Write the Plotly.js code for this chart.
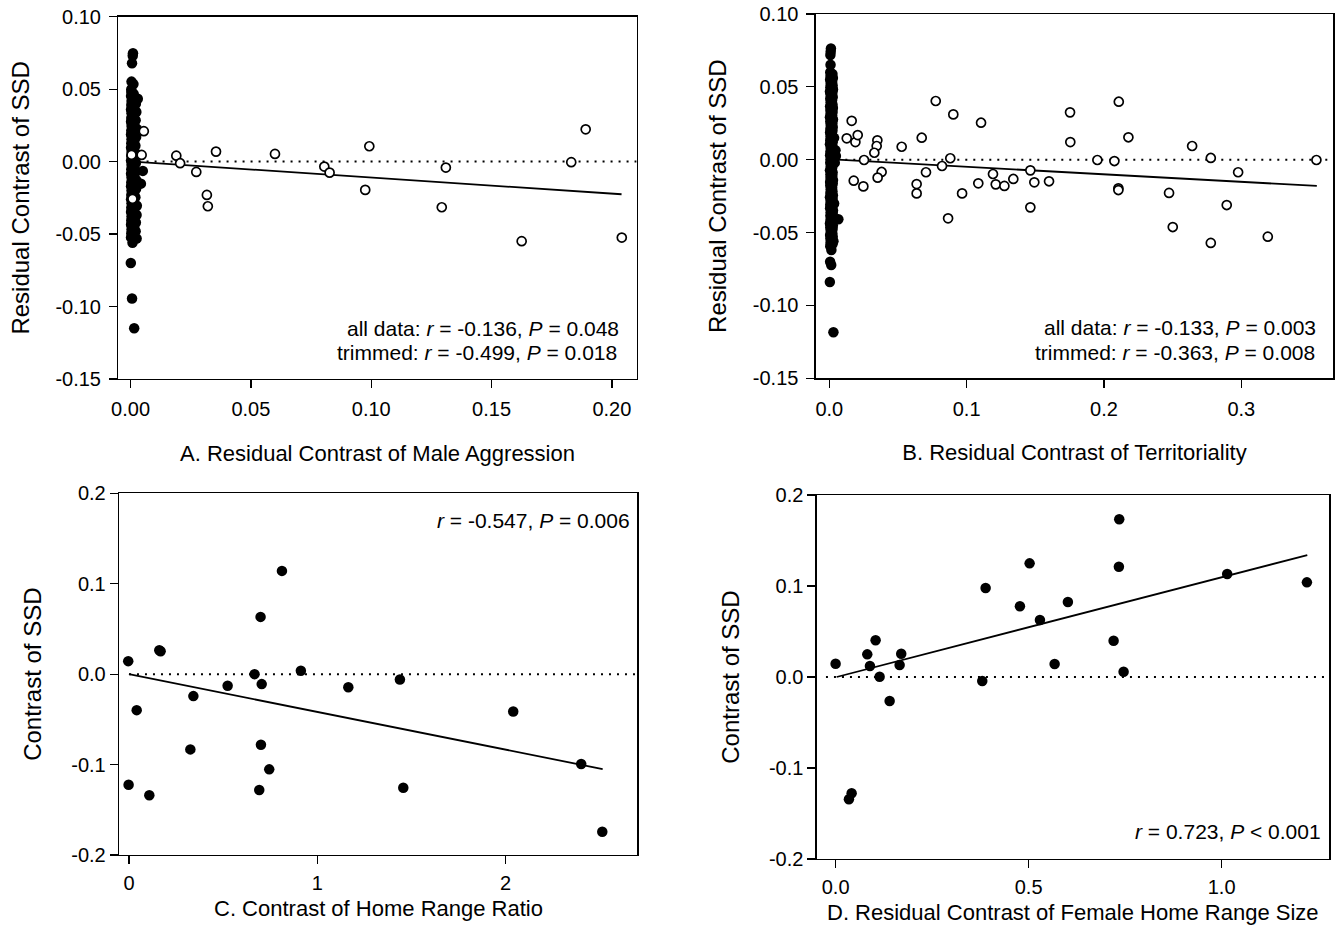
<!DOCTYPE html>
<html>
<head>
<meta charset="utf-8">
<script src="https://cdn.plot.ly/plotly-3.0.1.min.js"></script>
<style>html,body{margin:0;padding:0;background:#fff;}#chart{width:1335px;height:949px;}</style>
</head>
<body>
<div id="chart"></div>
<script>
// ---------- Panel A: Male aggression ----------
const aggrOpenX = [0.0004,0.0008,0.0046,0.0055,0.0190,0.0206,0.0273,0.0317,0.0321,0.0355,0.0600,0.0805,0.0827,0.0975,0.0992,0.1293,0.1310,0.1625,0.1831,0.1891,0.2041];
const aggrOpenY = [0.0046,-0.0257,0.0046,0.0210,0.0041,-0.0011,-0.0071,-0.0230,-0.0308,0.0069,0.0053,-0.0034,-0.0076,-0.0195,0.0106,-0.0315,-0.0041,-0.0549,-0.0004,0.0223,-0.0524];
const aggrFilledX = [
 0.0010,0.0009,0.0006,0.0004,0.0012,0.0003,0.0030,0.0051,0.0043,0.0025,0.0025,0.0008,0.0013,0.0001,0.0006,0.0015,
 0.0003,0.0002,0.0004,0.0003,0.0002,0.0004,0.0003,0.0002,0.0004,0.0003,0.0002,0.0004,0.0003,0.0002,0.0004,0.0003,0.0002,0.0004,0.0003,0.0002,0.0004,0.0003,0.0002,0.0004,0.0003,0.0002,0.0004,0.0003,0.0002,0.0004,0.0003,0.0002,0.0004,0.0003,0.0002,
 0.0013,0.0014,0.0012,0.0015,0.0013,0.0014,0.0012,0.0015,0.0013,0.0014,0.0012,0.0015,0.0013,0.0014,0.0012,0.0015,0.0013,0.0014,0.0012,0.0015,0.0013,0.0014,0.0012,0.0015,0.0013,0.0014,0.0012,0.0015,0.0013,0.0014,0.0012,0.0015,0.0013,0.0014,0.0012,
 0.0022,0.0024,0.0021,0.0026,0.0023,0.0020,0.0025,0.0022,0.0021,0.0024,0.0023,0.0020,0.0026,0.0022,0.0021
];
const aggrFilledY = [
 0.0748,0.0730,0.0679,0.0552,0.0535,0.0500,0.0434,-0.0064,-0.0152,-0.0368,-0.0530,-0.0560,-0.0330,-0.0700,-0.0945,-0.1150,
 0.0480,0.0452,0.0418,0.0391,0.0360,0.0333,0.0301,0.0275,0.0246,0.0214,0.0188,0.0155,0.0127,0.0096,0.0066,0.0038,0.0008,-0.0021,-0.0052,-0.0083,-0.0110,-0.0143,-0.0170,-0.0199,-0.0231,-0.0260,-0.0288,-0.0318,-0.0347,-0.0379,-0.0406,-0.0435,-0.0468,-0.0495,-0.0523,
 0.0467,0.0436,0.0402,0.0372,0.0347,0.0315,0.0289,0.0258,0.0229,0.0200,0.0171,0.0140,0.0112,0.0081,0.0051,0.0022,-0.0007,-0.0036,-0.0068,-0.0095,-0.0127,-0.0156,-0.0185,-0.0214,-0.0246,-0.0274,-0.0303,-0.0333,-0.0362,-0.0392,-0.0421,-0.0451,-0.0481,-0.0510,-0.0540,
 0.0400,0.0342,0.0285,0.0226,0.0170,0.0110,0.0052,-0.0010,-0.0070,-0.0128,-0.0188,-0.0246,-0.0305,-0.0420,-0.0480
];
const aggrFitX = [0.001, 0.204];
const aggrFitY = [0.0, -0.0225];
const aggrTickVals = [0, 0.05, 0.10, 0.15, 0.20];
const aggrTickText = ['0.00','0.05','0.10','0.15','0.20'];

// ---------- Panel B: Territoriality ----------
const terrOpenX = [0.0163,0.0127,0.0190,0.0207,0.0253,0.0178,0.0248,0.0350,0.0345,0.0328,0.0381,0.0352,0.0527,0.0673,0.0636,0.0636,0.0704,0.0775,0.0903,0.0821,0.0881,0.0865,0.0967,0.1105,0.1085,0.1192,0.1212,0.1275,0.1340,0.1464,0.1493,0.1464,0.1600,
 0.1753,0.1755,0.2108,0.2178,0.1952,0.2076,0.2105,0.2105,0.2474,0.2501,0.2642,0.2778,0.2778,0.2977,0.2894,0.3193,0.3547];
const terrOpenY = [0.0267,0.0147,0.0121,0.0169,-0.0002,-0.0144,-0.0183,0.0133,0.0094,0.0048,-0.0084,-0.0123,0.0089,0.0151,-0.0167,-0.0231,-0.0086,0.0403,0.0311,-0.0043,0.0010,-0.0402,-0.0231,0.0254,-0.0162,-0.0098,-0.0169,-0.0180,-0.0132,-0.0073,-0.0155,-0.0327,-0.0148,
 0.0325,0.0121,0.0398,0.0154,-0.0002,-0.0009,-0.0196,-0.0208,-0.0228,-0.0462,0.0094,0.0012,-0.0571,-0.0086,-0.0311,-0.0528,-0.0002];
const terrFilledX = [
 0.0012,0.0010,0.0008,0.0009,0.0014,0.0006,0.0004,0.0030,0.0066,0.0015,
 0.0045,0.0048,0.0040,0.0035,0.0035,0.0030,
 0.0007,0.0009,0.0006,0.0010,0.0008,0.0005,0.0009,0.0007,0.0010,0.0006,0.0008,0.0009,0.0005,0.0007,0.0010,0.0008,0.0006,0.0009,0.0007,0.0005,0.0010,0.0008,0.0006,0.0009,0.0007,0.0010,0.0005,0.0008,0.0009,0.0006,0.0007,0.0010,0.0008,0.0005,0.0009,0.0007,0.0006,0.0010,0.0008,0.0009,0.0005,0.0007,0.0010,0.0006,0.0008,0.0009,0.0007,
 0.0023,0.0026,0.0021,0.0024,0.0027,0.0022,0.0025,0.0020,0.0023,0.0026,0.0024,0.0021,0.0027,0.0022,0.0025,0.0023,0.0020,0.0026,0.0024,0.0022,0.0027,0.0021,0.0025,0.0023,0.0026,0.0020,0.0024,0.0022,0.0027,0.0025,0.0021,0.0023,0.0026,0.0024,0.0020,0.0022,0.0027,0.0025,0.0023,0.0021,0.0026,0.0024,0.0022,0.0025,0.0020,0.0023
];
const terrFilledY = [
 0.0764,0.0741,0.0718,0.0652,-0.0722,-0.0700,-0.0839,-0.1184,-0.0409,-0.0620,
 0.0065,0.0025,-0.0020,0.0150,-0.0300,-0.0560,
 0.0601,0.0574,0.0549,0.0521,0.0498,0.0469,0.0447,0.0419,0.0394,0.0367,0.0342,0.0315,0.0291,0.0263,0.0238,0.0211,0.0187,0.0159,0.0134,0.0107,0.0083,0.0054,0.0031,0.0003,-0.0021,-0.0049,-0.0073,-0.0101,-0.0125,-0.0153,-0.0177,-0.0205,-0.0229,-0.0257,-0.0281,-0.0309,-0.0333,-0.0361,-0.0385,-0.0413,-0.0437,-0.0465,-0.0489,-0.0517,-0.0541,-0.0569,-0.0593,
 0.0589,0.0561,0.0533,0.0510,0.0482,0.0458,0.0430,0.0407,0.0379,0.0355,0.0328,0.0304,0.0276,0.0251,0.0224,0.0199,0.0172,0.0148,0.0120,0.0096,0.0067,0.0044,0.0016,-0.0008,-0.0036,-0.0060,-0.0088,-0.0112,-0.0140,-0.0164,-0.0192,-0.0216,-0.0244,-0.0268,-0.0296,-0.0320,-0.0348,-0.0372,-0.0400,-0.0424,-0.0452,-0.0476,-0.0504,-0.0528,-0.0556,-0.0580
];
const terrFitX = [0.006, 0.355];
const terrFitY = [0.0, -0.018];
const terrTickVals = [0, 0.1, 0.2, 0.3];
const terrTickText = ['0.0','0.1','0.2','0.3'];

const residTickVals = [0.10, 0.05, 0, -0.05, -0.10, -0.15];
const residTickText = ['0.10','0.05','0.00','-0.05','-0.10','-0.15'];

// ---------- Panel C: Home range ratio ----------
const ratioX = [-0.004,0.161,0.168,0.041,-0.002,0.108,0.342,0.326,0.524,0.667,0.705,0.699,0.8125,0.701,0.745,0.692,0.913,1.165,1.439,1.457,2.041,2.402,2.514];
const ratioY = [0.0144,0.0265,0.0254,-0.0398,-0.1223,-0.1340,-0.0243,-0.0832,-0.0129,0.0000,-0.0110,0.0633,0.1142,-0.0781,-0.1053,-0.1282,0.0037,-0.0144,-0.0059,-0.1256,-0.0413,-0.0994,-0.1742];
const ratioFitX = [0.0, 2.516];
const ratioFitY = [0.0, -0.105];
const ratioTickVals = [0, 1, 2];
const ratioTickText = ['0','1','2'];

// ---------- Panel D: Female home range size ----------
const femX = [0.000,0.082,0.1036,0.0889,0.114,0.170,0.1658,0.140,0.0345,0.0415,0.3886,0.3799,0.4775,0.5026,0.5293,0.5674,0.6018,0.7348,0.7339,0.7202,0.7461,1.0145,1.221];
const femY = [0.0146,0.0249,0.0403,0.0121,0.0003,0.0256,0.0132,-0.0264,-0.1344,-0.1278,0.0978,-0.0044,0.0777,0.1249,0.0626,0.0143,0.0824,0.1733,0.1212,0.0399,0.0058,0.1132,0.1040];
const femFitX = [0.0026, 1.222];
const femFitY = [0.0, 0.134];
const femTickVals = [0, 0.5, 1.0];
const femTickText = ['0.0','0.5','1.0'];

const ssdTickVals = [0.2, 0.1, 0, -0.1, -0.2];
const ssdTickText = ['0.2','0.1','0.0','-0.1','-0.2'];

// ---------- build ----------
const W = 1335, H = 949;
const FONT = 'Liberation Sans, Arial, Helvetica, sans-serif';
const filled = {color:'#000', size:10.5, line:{width:0}};
const openM = {color:'#fff', size:9, line:{color:'#000', width:1.7}};
const fitLine = {color:'#000', width:1.8};

function pts(x, y, xa, ya, marker){
  return {type:'scatter', mode:'markers', x:x, y:y, xaxis:xa, yaxis:ya, marker:marker, hoverinfo:'skip', cliponaxis:false};
}
function fit(x, y, xa, ya){
  return {type:'scatter', mode:'lines', x:x, y:y, xaxis:xa, yaxis:ya, line:fitLine, hoverinfo:'skip'};
}

const data = [
  fit(aggrFitX, aggrFitY, 'x', 'y'),
  pts(aggrFilledX, aggrFilledY, 'x', 'y', filled),
  pts(aggrOpenX, aggrOpenY, 'x', 'y', openM),
  fit(terrFitX, terrFitY, 'x2', 'y2'),
  pts(terrFilledX, terrFilledY, 'x2', 'y2', filled),
  pts(terrOpenX, terrOpenY, 'x2', 'y2', openM),
  fit(ratioFitX, ratioFitY, 'x3', 'y3'),
  pts(ratioX, ratioY, 'x3', 'y3', filled),
  fit(femFitX, femFitY, 'x4', 'y4'),
  pts(femX, femY, 'x4', 'y4', filled)
];

const axBase = {
  showline:true, mirror:true, linecolor:'#000', linewidth:1.3,
  ticks:'outside', ticklen:8, tickwidth:1.2, tickcolor:'#000',
  showgrid:false, zeroline:false, fixedrange:true, tickmode:'array',
  tickfont:{family:FONT, size:20, color:'#000'}
};
function ax(extra){ return Object.assign({}, axBase, extra); }
const xTitleFont = {family:FONT, size:22, color:'#000'};
const yTitleFont = {family:FONT, size:24, color:'#000'};
const annFont = {family:FONT, size:21, color:'#000'};

const layout = {
  width:W, height:H, margin:{l:0, r:0, t:0, b:0},
  paper_bgcolor:'#fff', plot_bgcolor:'#fff', showlegend:false,
  font:{family:FONT, size:20, color:'#000'},
  xaxis: ax({domain:[118.3/W, 636.7/W], anchor:'y', range:[-0.0051, 0.2103], tickvals:aggrTickVals, ticktext:aggrTickText,
    ticklabelstandoff:4, title:{text:'A. Residual Contrast of Male Aggression', font:xTitleFont, standoff:26}}),
  yaxis: ax({domain:[1-379/H, 1-16.7/H], anchor:'x', range:[-0.15, 0.10], tickvals:residTickVals, ticktext:residTickText,
    ticklabelstandoff:4, title:{text:'Residual Contrast of SSD', font:yTitleFont, standoff:19}}),
  xaxis2: ax({domain:[815.7/W, 1333.3/W], anchor:'y2', range:[-0.0099, 0.367], tickvals:terrTickVals, ticktext:terrTickText,
    ticklabelstandoff:4, title:{text:'B. Residual Contrast of Territoriality', font:xTitleFont, standoff:26}}),
  yaxis2: ax({domain:[1-378.3/H, 1-14/H], anchor:'x2', range:[-0.15, 0.10], tickvals:residTickVals, ticktext:residTickText,
    ticklabelstandoff:4, title:{text:'Residual Contrast of SSD', font:yTitleFont, standoff:19}}),
  xaxis3: ax({domain:[119/W, 637.3/W], anchor:'y3', range:[-0.053, 2.70], tickvals:ratioTickVals, ticktext:ratioTickText,
    ticklabelstandoff:2}),
  yaxis3: ax({domain:[1-855/H, 1-493.3/H], anchor:'x3', range:[-0.2, 0.2], tickvals:ssdTickVals, ticktext:ssdTickText,
    title:{text:'Contrast of SSD', font:yTitleFont, standoff:22}}),
  xaxis4: ax({domain:[816.7/W, 1329.3/W], anchor:'y4', range:[-0.049, 1.279], tickvals:femTickVals, ticktext:femTickText,
    ticklabelstandoff:2}),
  yaxis4: ax({domain:[1-859/H, 1-495/H], anchor:'x4', range:[-0.2, 0.2], tickvals:ssdTickVals, ticktext:ssdTickText,
    title:{text:'Contrast of SSD', font:yTitleFont, standoff:22}}),
  shapes: [
    {type:'line', xref:'x', yref:'y', x0:0, x1:0.2103, y0:0, y1:0, line:{color:'#000', width:2, dash:'2px,6px'}, layer:'below'},
    {type:'line', xref:'x2', yref:'y2', x0:0, x1:0.367, y0:0, y1:0, line:{color:'#000', width:2, dash:'2px,6px'}, layer:'below'},
    {type:'line', xref:'x3', yref:'y3', x0:0, x1:2.70, y0:0, y1:0, line:{color:'#000', width:2, dash:'2px,6px'}, layer:'below'},
    {type:'line', xref:'x4', yref:'y4', x0:-0.025, x1:1.279, y0:0, y1:0, line:{color:'#000', width:2, dash:'2px,6px'}, layer:'below'}
  ],
  annotations: [
    {xref:'paper', yref:'paper', x:621/W, y:1-328/H, xanchor:'right', yanchor:'middle', showarrow:false,
     text:'all data: <i>r</i> = -0.136, <i>P</i> = 0.048', font:annFont},
    {xref:'paper', yref:'paper', x:619/W, y:1-352/H, xanchor:'right', yanchor:'middle', showarrow:false,
     text:'trimmed: <i>r</i> = -0.499, <i>P</i> = 0.018', font:annFont},
    {xref:'paper', yref:'paper', x:1318/W, y:1-327/H, xanchor:'right', yanchor:'middle', showarrow:false,
     text:'all data: <i>r</i> = -0.133, <i>P</i> = 0.003', font:annFont},
    {xref:'paper', yref:'paper', x:1317/W, y:1-352/H, xanchor:'right', yanchor:'middle', showarrow:false,
     text:'trimmed: <i>r</i> = -0.363, <i>P</i> = 0.008', font:annFont},
    {xref:'paper', yref:'paper', x:632/W, y:1-520/H, xanchor:'right', yanchor:'middle', showarrow:false,
     text:'<i>r</i> = -0.547, <i>P</i> = 0.006', font:annFont},
    {xref:'paper', yref:'paper', x:1323/W, y:1-831/H, xanchor:'right', yanchor:'middle', showarrow:false,
     text:'<i>r</i> = 0.723, <i>P</i> &lt; 0.001', font:annFont},
    {xref:'paper', yref:'paper', x:378/W, y:1-908/H, xanchor:'center', yanchor:'middle', showarrow:false,
     text:'C. Contrast of Home Range Ratio', font:xTitleFont},
    {xref:'paper', yref:'paper', x:1073/W, y:1-912/H, xanchor:'center', yanchor:'middle', showarrow:false,
     text:'D. Residual Contrast of Female Home Range Size', font:xTitleFont}
  ]
};

Plotly.newPlot('chart', data, layout, {displayModeBar:false, staticPlot:true});
</script>
</body>
</html>
